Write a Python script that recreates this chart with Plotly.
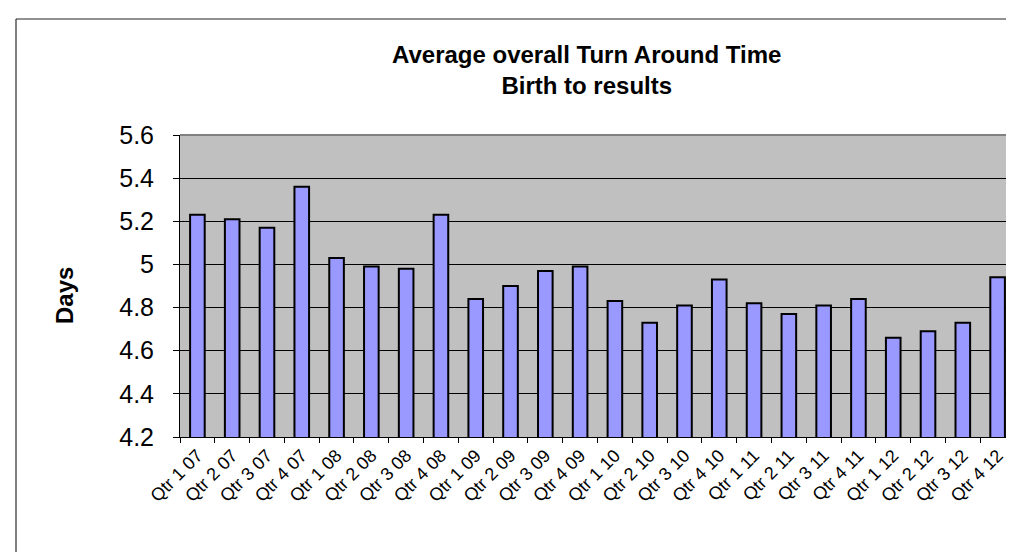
import plotly.graph_objects as go

categories = ["Qtr 1 07", "Qtr 2 07", "Qtr 3 07", "Qtr 4 07",
              "Qtr 1 08", "Qtr 2 08", "Qtr 3 08", "Qtr 4 08",
              "Qtr 1 09", "Qtr 2 09", "Qtr 3 09", "Qtr 4 09",
              "Qtr 1 10", "Qtr 2 10", "Qtr 3 10", "Qtr 4 10",
              "Qtr 1 11", "Qtr 2 11", "Qtr 3 11", "Qtr 4 11",
              "Qtr 1 12", "Qtr 2 12", "Qtr 3 12", "Qtr 4 12"]
days = [5.23, 5.21, 5.17, 5.36, 5.03, 4.99, 4.98, 5.23,
        4.84, 4.90, 4.97, 4.99, 4.83, 4.73, 4.81, 4.93,
        4.82, 4.77, 4.81, 4.84, 4.66, 4.69, 4.73, 4.94]
y_ticks = [4.2, 4.4, 4.6, 4.8, 5.0, 5.2, 5.4, 5.6]
y_tick_labels = ["4.2", "4.4", "4.6", "4.8", "5", "5.2", "5.4", "5.6"]
title_lines = ["Average overall Turn Around Time", "Birth to results"]

W, H = 1014, 552
L, R, T, B = 172, 1007, 127, 429

def px(x):
    return (x - L) / (R - L)

def py(y):
    return (B - y) / (B - T)

fig = go.Figure(go.Bar(
    x=categories, y=days,
    marker=dict(color="#9999FF", line=dict(color="#000000", width=2)),
))

font = "Liberation Sans, Arial, sans-serif"
fig.update_layout(
    width=W, height=H,
    margin=dict(l=L, r=W - R, t=T, b=H - B),
    paper_bgcolor="white",
    plot_bgcolor="#C0C0C0",
    bargap=0.58,
    showlegend=False,
    font=dict(family=font, color="black"),
)
fig.update_xaxes(
    type="category",
    tickangle=-45,
    tickfont=dict(size=18, family=font),
    showline=True, linecolor="black", linewidth=1,
    ticks="outside", ticklen=5, tickcolor="black", tickson="boundaries",
    showgrid=False,
)
fig.update_yaxes(
    range=[4.2, 5.6],
    tickvals=y_ticks, ticktext=y_tick_labels,
    tickfont=dict(size=25, family=font),
    ticklabelstandoff=14,
    showline=True, linecolor="black", linewidth=1,
    ticks="outside", ticklen=6, tickcolor="black",
    showgrid=True, gridcolor="black", gridwidth=1,
    zeroline=False,
)

fig.add_annotation(
    text="<b>" + "<br>".join(title_lines) + "</b>",
    xref="paper", yref="paper", x=px(578), y=py(62),
    xanchor="center", yanchor="middle", showarrow=False,
    font=dict(size=24, family=font, color="black"),
)
fig.add_annotation(
    text="<b>Days</b>",
    xref="paper", yref="paper", x=px(56), y=py(288),
    xanchor="center", yanchor="middle", showarrow=False, textangle=-90,
    font=dict(size=24, family=font, color="black"),
)

# plot area top/right border (gray)
fig.add_shape(type="line", xref="paper", yref="paper", x0=0, x1=1, y0=1, y1=1,
              line=dict(color="#808080", width=2), layer="above")
fig.add_shape(type="line", xref="paper", yref="paper", x0=1, x1=1, y0=0, y1=1,
              line=dict(color="#808080", width=2), layer="above")
# outer chart frame
fig.add_shape(type="line", xref="paper", yref="paper", x0=px(8), x1=px(8), y0=py(11), y1=py(560),
              line=dict(color="#808080", width=2))
fig.add_shape(type="line", xref="paper", yref="paper", x0=px(8), x1=px(1020), y0=py(11), y1=py(11),
              line=dict(color="#222222", width=1))

fig.write_html("out.html")
